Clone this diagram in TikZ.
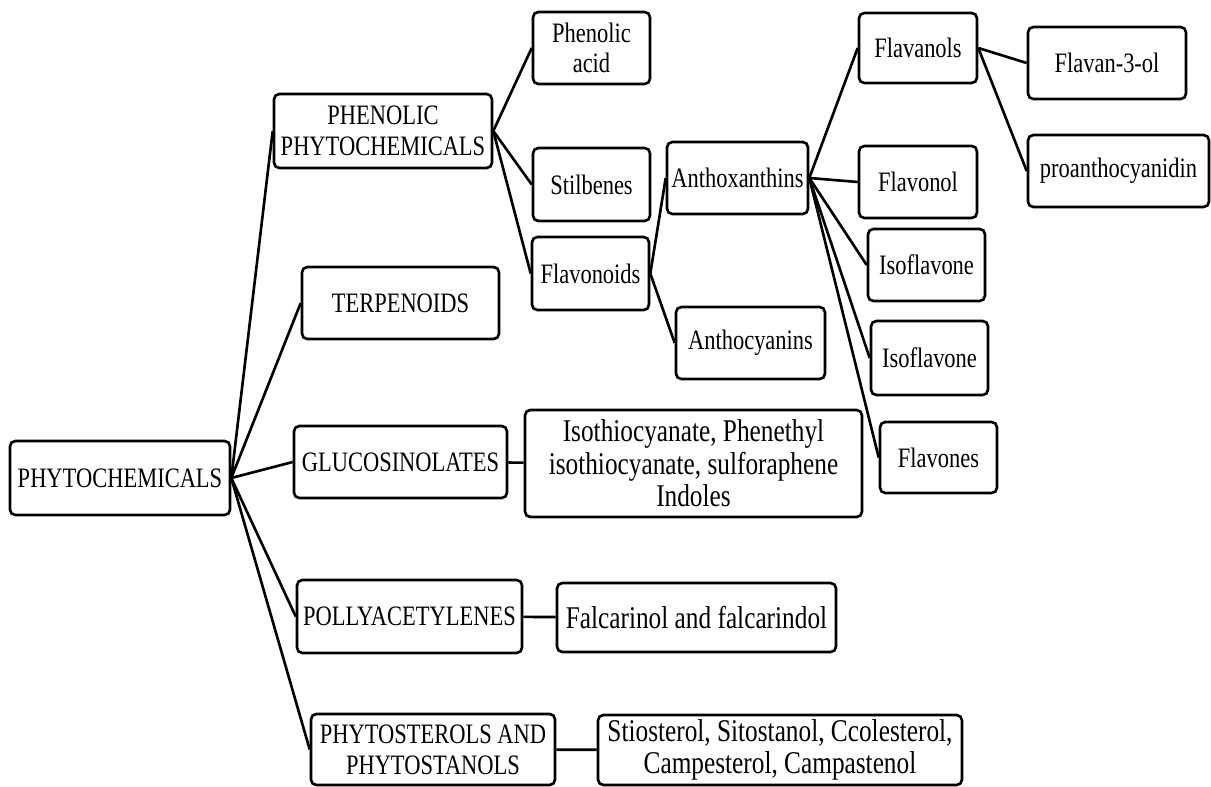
\documentclass[tikz,border=0pt]{standalone}
\usepackage{fontspec}
\setmainfont{Liberation Serif}[FakeStretch=0.8]
\usetikzlibrary{positioning}

\tikzset{
	box/.style={draw, line width=1.5pt, rounded corners=3pt, align=center, inner sep=2pt,
		font=\fontsize{16}{17.5}\selectfont},
	bigbox/.style={box, font=\fontsize{18}{18.5}\selectfont},
	link/.style={line width=1.5pt}
}

\begin{document}
\begin{tikzpicture}[x=0.02cm, y=-0.02cm]
	\useasboundingbox (0,0) rectangle (1211,787);
	% first level
	\node (root) [box, minimum width=4.4cm, minimum height=1.48cm] at (120,478) {PHYTOCHEMICALS};
	\node (phenolic) [box, minimum width=4.36cm, minimum height=1.48cm] at (383,131) {PHENOLIC\\PHYTOCHEMICALS};
	\node (terpenoids) [box, minimum width=3.94cm, minimum height=1.44cm] at (400.5,303) {TERPENOIDS};
	\node (glucosinolates) [box, minimum width=4.26cm, minimum height=1.44cm] at (400.5,462) {GLUCOSINOLATES};
	\node (polyacetylenes) [box, minimum width=4.5cm, minimum height=1.46cm] at (409.5,616.5) {POLLYACETYLENES};
	\node (phytosterols) [box, minimum width=4.88cm, minimum height=1.42cm] at (433,749.5) {PHYTOSTEROLS AND\\PHYTOSTANOLS};
	% second level
	\node (phenacid) [box, minimum width=2.34cm, minimum height=1.44cm] at (591.5,48) {Phenolic\\acid};
	\node (stilbenes) [box, minimum width=2.34cm, minimum height=1.46cm] at (591.5,184.5) {Stilbenes};
	\node (flavonoids) [box, minimum width=2.34cm, minimum height=1.46cm] at (590.5,273.5) {Flavonoids};
	\node (isothio) [bigbox, minimum width=6.74cm, minimum height=2.14cm] at (693.5,463.5) {Isothiocyanate, Phenethyl\\isothiocyanate, sulforaphene\\Indoles};
	\node (falcarinol) [bigbox, minimum width=5.58cm, minimum height=1.38cm] at (696.5,617.5) {Falcarinol and falcarindol};
	\node (sterols) [bigbox, minimum width=7.28cm, minimum height=1.4cm] at (780,750) {Stiosterol, Sitostanol, Ccolesterol,\\Campesterol, Campastenol};
	% flavonoids
	\node (anthoxanthins) [box, minimum width=2.82cm, minimum height=1.44cm] at (737.5,178) {Anthoxanthins};
	\node (anthocyanins) [box, minimum width=2.98cm, minimum height=1.44cm] at (750.5,343) {Anthocyanins};
	\node (flavanols) [box, minimum width=2.36cm, minimum height=1.4cm] at (918,48) {Flavanols};
	\node (flavonol) [box, minimum width=2.36cm, minimum height=1.44cm] at (918,182) {Flavonol};
	\node (isoflavoneA) [box, minimum width=2.34cm, minimum height=1.44cm] at (926.5,265) {Isoflavone};
	\node (isoflavoneB) [box, minimum width=2.34cm, minimum height=1.48cm] at (929.5,358) {Isoflavone};
	\node (flavones) [box, minimum width=2.34cm, minimum height=1.42cm] at (938.5,457.5) {Flavones};
	\node (flavanthreeol) [box, minimum width=3.16cm, minimum height=1.44cm] at (1107,63) {Flavan-3-ol};
	\node (proantho) [box, minimum width=3.62cm, minimum height=1.44cm] at (1118.5,171) {proanthocyanidin};
	% links
	\foreach \child in {phenolic, terpenoids, glucosinolates, polyacetylenes, phytosterols}
		\draw [link] (root.east) -- (\child.west);
	\foreach \child in {phenacid, stilbenes, flavonoids}
		\draw [link] (phenolic.east) -- (\child.west);
	\foreach \child in {anthoxanthins, anthocyanins}
		\draw [link] (flavonoids.east) -- (\child.west);
	\foreach \child in {flavanols, flavonol, isoflavoneA, isoflavoneB, flavones}
		\draw [link] (anthoxanthins.east) -- (\child.west);
	\foreach \child in {flavanthreeol, proantho}
		\draw [link] (flavanols.east) -- (\child.west);
	\draw [link] (glucosinolates) -- (isothio);
	\draw [link] (polyacetylenes) -- (falcarinol);
	\draw [link] (phytosterols) -- (sterols);
\end{tikzpicture}
\end{document}
